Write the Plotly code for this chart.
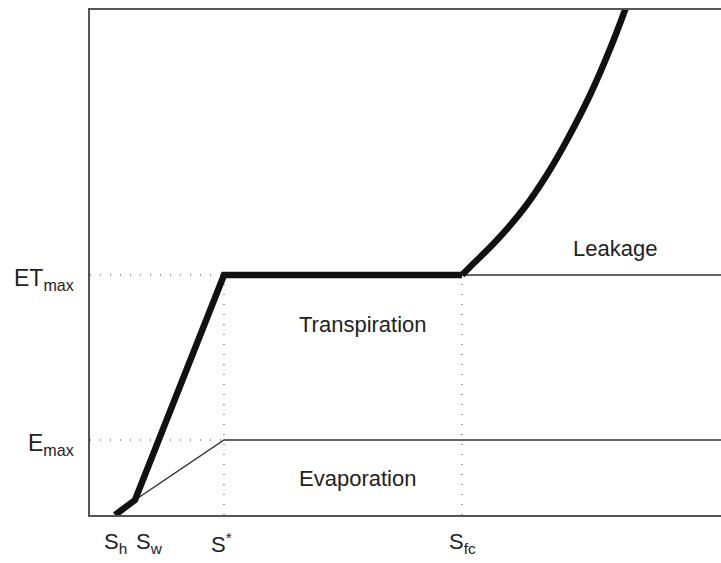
import plotly.graph_objects as go

# Soil-moisture thresholds (relative units along the x axis)
S_h = 0.25
S_w = 0.45
S_star = 1.34
S_fc = 3.72
X_END = 6.31

# Loss rates
ET_max = 2.40
E_max = 0.75
E_w = 0.15   # loss rate at the wilting point

# Leakage branch above field capacity
leak_x = [3.72, 3.80, 4.07, 4.35, 4.58, 4.77, 5.00, 5.20, 5.35, 5.40]
leak_y = [2.40, 2.48, 2.75, 3.08, 3.42, 3.75, 4.20, 4.66, 5.05, 5.19]

Y_TOP = 5.05

FONT = "Liberation Sans, Arial, sans-serif"
DOT = "1px,9px"

fig = go.Figure()

# Dotted guide lines
dot_style = dict(color="#808080", width=1.5, dash=DOT)
fig.add_trace(go.Scatter(x=[0, S_star], y=[ET_max, ET_max], mode="lines", line=dot_style))
fig.add_trace(go.Scatter(x=[0, S_star], y=[E_max, E_max], mode="lines", line=dot_style))
fig.add_trace(go.Scatter(x=[S_star, S_star], y=[0, ET_max], mode="lines", line=dot_style))
fig.add_trace(go.Scatter(x=[S_fc, S_fc], y=[0, ET_max], mode="lines", line=dot_style))

# Thin partition lines: evaporation and transpiration ceilings
thin = dict(color="#333333", width=1.5)
fig.add_trace(go.Scatter(x=[S_w, S_star, X_END], y=[E_w, E_max, E_max], mode="lines", line=thin))
fig.add_trace(go.Scatter(x=[S_fc, X_END], y=[ET_max, ET_max], mode="lines", line=thin))

# Total loss function
fig.add_trace(go.Scatter(x=[S_h, S_w, S_star, S_fc], y=[0, E_w, ET_max, ET_max],
                         mode="lines", line=dict(color="#111111", width=6.5)))
fig.add_trace(go.Scatter(x=leak_x, y=leak_y, mode="lines",
                         line=dict(color="#111111", width=6.5, shape="spline", smoothing=1)))

annotations = []

# Region labels
for txt, x, y in [("Leakage", 5.25, 2.67), ("Transpiration", 2.725, 1.91), ("Evaporation", 2.67, 0.37)]:
    annotations.append(dict(x=x, y=y, text=txt, showarrow=False, xanchor="center",
                            yanchor="middle", font=dict(family=FONT, size=22, color="#222222")))

# Threshold labels beneath the x axis
for txt, x, shift in [("S<sub>h</sub>", S_h, 0), ("S<sub>w</sub>", S_w, 14),
                      ("S<sup>*</sup>", S_star, -3), ("S<sub>fc</sub>", S_fc, 0)]:
    annotations.append(dict(x=x, y=0, yref="y", text=txt, showarrow=False, xanchor="center",
                            yanchor="top", xshift=shift, yshift=-12,
                            font=dict(family=FONT, size=22, color="#222222")))

# Rate labels left of the y axis
for txt, y in [("ET<sub>max</sub>", ET_max), ("E<sub>max</sub>", E_max)]:
    annotations.append(dict(x=0, y=y, xref="x", text=txt, showarrow=False, xanchor="right",
                            yanchor="middle", xshift=-14, yshift=-4,
                            font=dict(family=FONT, size=23, color="#222222")))

fig.update_layout(
    width=721, height=563,
    margin=dict(l=90, r=0, t=10, b=48),
    paper_bgcolor="white", plot_bgcolor="white",
    showlegend=False,
    annotations=annotations,
    xaxis=dict(range=[0, X_END], showline=True, linecolor="#555555", linewidth=2, mirror=True,
               showgrid=False, zeroline=False, showticklabels=False, ticks=""),
    yaxis=dict(range=[0, Y_TOP], showline=True, linecolor="#555555", linewidth=2, mirror=False,
               showgrid=False, zeroline=False, showticklabels=False, ticks=""),
)

fig.write_html("out.html")
